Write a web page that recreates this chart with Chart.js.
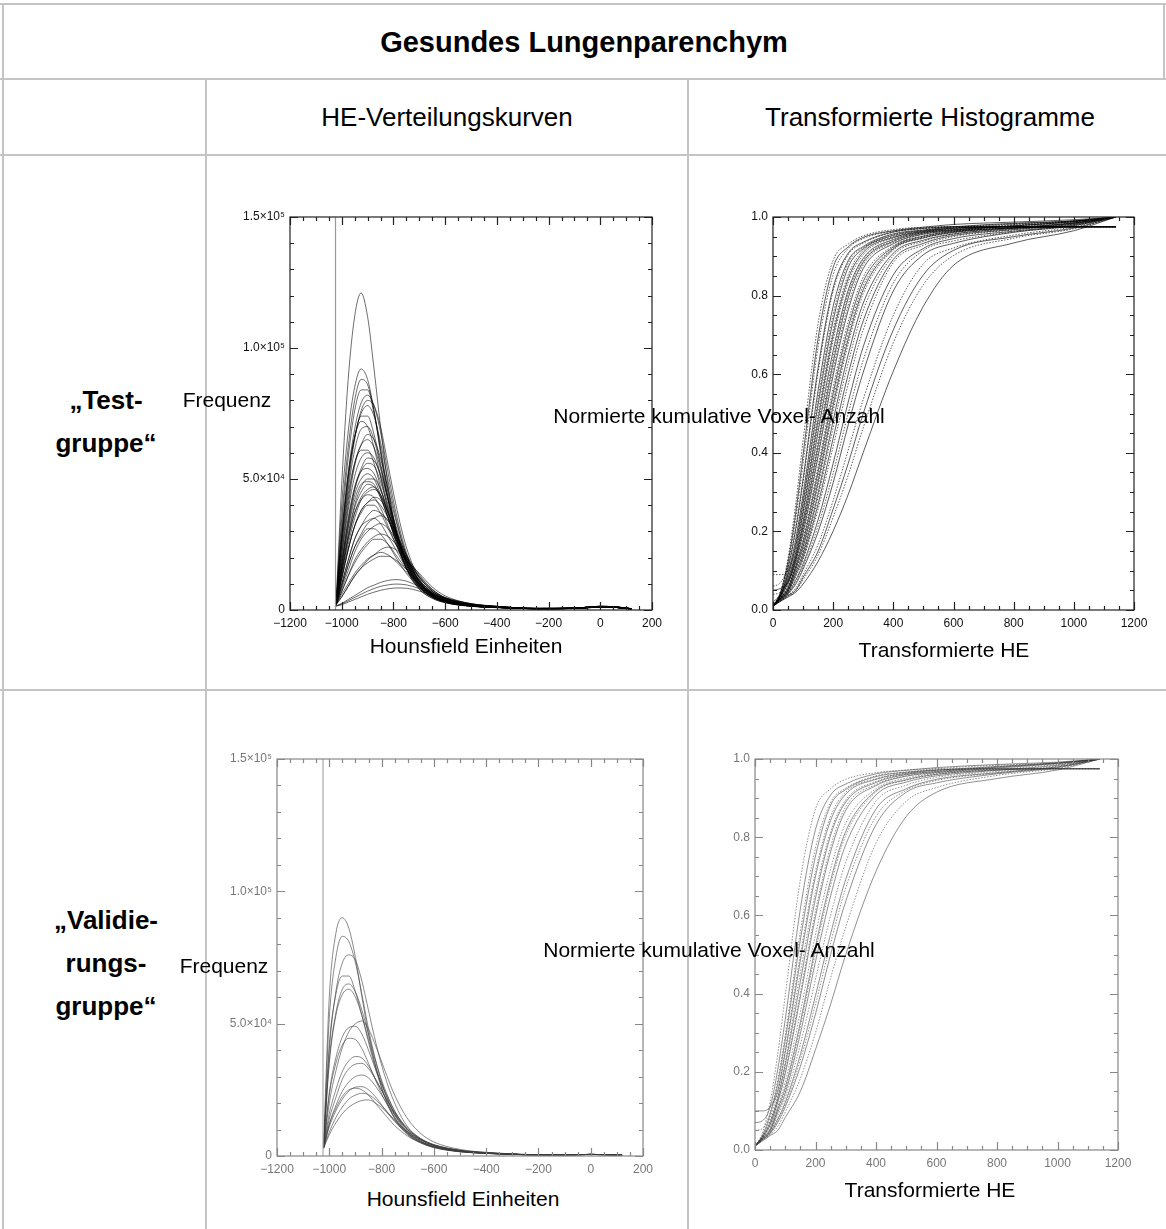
<!DOCTYPE html>
<html lang="de">
<head>
<meta charset="utf-8">
<title>Gesundes Lungenparenchym</title>
<script src="https://cdn.jsdelivr.net/npm/chart.js@4.4.1/dist/chart.umd.min.js"></script>
<style>
	body { margin: 0; background: #fff; font-family: "Liberation Sans", Arial, sans-serif; }
	#seite { position: relative; width: 1166px; height: 1229px; overflow: hidden; background: #fff; }
	.linie { position: absolute; background: #c4c4c4; }
	.txt { position: absolute; transform: translate(-50%, -50%); white-space: nowrap; color: #000; z-index: 5; }
	.titel { font-size: 29px; font-weight: bold; }
	.kopf { font-size: 26px; }
	.zeile { font-size: 26px; font-weight: bold; text-align: center; line-height: 43px; }
	.achse { font-size: 21px; }
	canvas { position: absolute; }
	.blass { filter: blur(0.6px); }
</style>
</head>
<body>
<div id="seite">
	<!-- Tabellenrahmen -->
	<div class="linie" style="left:0;top:3px;width:1166px;height:2px"></div>
	<div class="linie" style="left:2px;top:3px;width:2px;height:1226px"></div>
	<div class="linie" style="left:1163px;top:3px;width:2px;height:77px"></div>
	<div class="linie" style="left:0;top:78px;width:1166px;height:2px"></div>
	<div class="linie" style="left:0;top:154px;width:1166px;height:2px"></div>
	<div class="linie" style="left:0;top:689px;width:1166px;height:2px"></div>
	<div class="linie" style="left:205px;top:79px;width:2px;height:1150px"></div>
	<div class="linie" style="left:687px;top:79px;width:2px;height:1150px"></div>

	<canvas id="heTestChart" width="460" height="445" style="left:215px;top:195px"></canvas>
	<canvas id="cumTestChart" width="460" height="445" style="left:700px;top:195px"></canvas>
	<canvas id="heValidChart" class="blass" width="465" height="445" style="left:200px;top:740px"></canvas>
	<canvas id="cumValidChart" class="blass" width="460" height="445" style="left:690px;top:740px"></canvas>

	<div class="txt titel" style="left:584px;top:42px">Gesundes Lungenparenchym</div>
	<div class="txt kopf" style="left:447px;top:117px">HE-Verteilungskurven</div>
	<div class="txt kopf" style="left:930px;top:117px">Transformierte Histogramme</div>

	<div class="txt zeile" style="left:106px;top:422px">„Test-<br>gruppe“</div>
	<div class="txt zeile" style="left:106px;top:963px">„Validie-<br>rungs-<br>gruppe“</div>

	<div class="txt achse" style="left:227px;top:400px">Frequenz</div>
	<div class="txt achse" style="left:466px;top:646px">Hounsfield Einheiten</div>
	<div class="txt achse" style="left:719px;top:416px">Normierte kumulative Voxel- Anzahl</div>
	<div class="txt achse" style="left:944px;top:650px">Transformierte HE</div>

	<div class="txt achse" style="left:224px;top:966px">Frequenz</div>
	<div class="txt achse" style="left:463px;top:1199px">Hounsfield Einheiten</div>
	<div class="txt achse" style="left:709px;top:950px">Normierte kumulative Voxel- Anzahl</div>
	<div class="txt achse" style="left:930px;top:1190px">Transformierte HE</div>
</div>

<script>
// Stützstellen der HE-Verteilungskurven (Hounsfield-Einheiten)
var heX = [-1022, -1000, -975, -950, -925, -900, -875, -850, -820, -790, -750, -700, -650, -600, -500, -400, -250, -100, 0, 60, 120];

// Frequenzen in Tausend Voxel, Testgruppe
var heTest = [
	[2, 48, 88, 112, 121, 112, 92, 70, 47, 30, 16, 8, 4.5, 2.8, 1.4, 0.9, 0.5, 0.6, 1.2, 1.0, 0.4],
	[2, 40, 68, 85, 92, 88, 76, 60, 42, 28, 16, 8, 4.5, 2.8, 1.4, 0.9, 0.5, 0.6, 1.2, 1.0, 0.4],
	[2, 35, 62, 80, 88, 86, 76, 61, 44, 30, 17, 9, 5, 3, 1.5, 1, 0.5, 0.6, 1.1, 1, 0.4],
	[2, 32, 58, 76, 84, 84, 75, 62, 45, 31, 18, 9, 5, 3, 1.5, 1, 0.5, 0.7, 1.3, 1.1, 0.4],
	[2, 28, 52, 69, 79, 82, 78, 68, 52, 37, 22, 11, 6, 3.5, 1.6, 1, 0.5, 0.6, 1.2, 1.0, 0.4],
	[2, 26, 48, 65, 76, 80, 78, 70, 55, 40, 24, 12, 6.5, 3.8, 1.7, 1.1, 0.5, 0.7, 1.4, 1.1, 0.5],
	[2, 27, 50, 66, 75, 78, 74, 64, 49, 35, 21, 10.5, 5.8, 3.5, 1.6, 1, 0.5, 0.6, 1.2, 1, 0.4],
	[2, 28, 51, 66, 74, 74, 67, 56, 42, 30, 18, 9, 5, 3, 1.5, 1, 0.5, 0.6, 1.2, 1, 0.4],
	[2, 29, 52, 66, 72, 70, 62, 51, 38, 27, 16, 8.5, 4.8, 3, 1.5, 1, 0.5, 0.6, 1.2, 1, 0.4],
	[2, 25, 46, 61, 69, 70, 65, 55, 42, 30, 18, 9.5, 5.2, 3.2, 1.5, 1, 0.5, 0.6, 1.1, 1, 0.4],
	[2, 21, 40, 55, 63, 67, 65, 58, 46, 34, 21, 11, 6, 3.6, 1.7, 1.1, 0.5, 0.6, 1.2, 1, 0.4],
	[2, 22, 42, 56, 63, 65, 62, 54, 42, 31, 19, 10, 5.5, 3.3, 1.6, 1, 0.5, 0.6, 1.2, 1, 0.4],
	[2, 24, 44, 56, 61, 61, 56, 47, 36, 26, 16, 8.8, 5, 3.1, 1.5, 1, 0.5, 0.6, 1.1, 1, 0.4],
	[2, 20, 38, 51, 58, 60, 58, 51, 40, 30, 19, 10, 5.6, 3.4, 1.6, 1, 0.5, 0.6, 1.2, 1, 0.4],
	[2, 17, 33, 46, 54, 58, 57, 52, 42, 32, 20, 11, 6, 3.6, 1.7, 1.1, 0.5, 0.6, 1.2, 1, 0.4],
	[2, 18, 34, 46, 53, 56, 55, 49, 39, 30, 19, 10.5, 5.8, 3.5, 1.7, 1.1, 0.5, 0.6, 1.2, 1, 0.4],
	[2, 18, 35, 47, 53, 54, 52, 46, 37, 28, 18, 10, 5.6, 3.4, 1.6, 1, 0.5, 0.6, 1.2, 1, 0.4],
	[2, 17, 32, 44, 50, 52, 50, 44, 35, 26, 17, 9.5, 5.4, 3.3, 1.6, 1, 0.5, 0.6, 1.1, 1, 0.4],
	[2, 15, 29, 40, 47, 50, 50, 46, 38, 29, 19, 11, 6, 3.6, 1.7, 1.1, 0.5, 0.7, 1.3, 1.1, 0.5],
	[2, 16, 31, 42, 48, 49, 48, 43, 35, 27, 18, 10, 5.6, 3.4, 1.6, 1, 0.5, 0.6, 1.2, 1, 0.4],
	[2, 15, 28, 39, 45, 48, 47, 43, 35, 27, 18, 10, 5.7, 3.5, 1.7, 1.1, 0.5, 0.6, 1.2, 1, 0.4],
	[2, 14, 27, 37, 43, 46, 47, 44, 37, 29, 19, 11, 6.2, 3.7, 1.8, 1.1, 0.5, 0.7, 1.3, 1.1, 0.5],
	[2, 13, 25, 35, 42, 45, 46, 44, 37, 29, 20, 11.5, 6.5, 3.8, 1.8, 1.1, 0.5, 0.7, 1.3, 1.1, 0.5],
	[2, 14, 27, 37, 42, 44, 43, 39, 32, 25, 16, 9, 5.2, 3.2, 1.6, 1, 0.5, 0.6, 1.1, 1, 0.4],
	[2, 12, 23, 32, 38, 41, 43, 42, 37, 30, 21, 12.5, 7.2, 4.3, 2, 1.2, 0.6, 0.7, 1.4, 1.2, 0.5],
	[2, 12, 23, 32, 38, 41, 42, 40, 35, 28, 19, 11.5, 6.6, 4, 1.9, 1.2, 0.6, 0.7, 1.3, 1.1, 0.5],
	[2, 12, 23, 32, 37, 40, 40, 37, 31, 25, 17, 10, 5.8, 3.6, 1.7, 1.1, 0.5, 0.6, 1.2, 1, 0.4],
	[2, 10, 19, 27, 32, 36, 38, 37, 34, 28, 20, 12.5, 7.2, 4.3, 2, 1.2, 0.6, 0.7, 1.4, 1.2, 0.5],
	[2, 9, 17, 24, 29, 33, 35, 36, 34, 29, 21, 13.5, 8, 4.7, 2.2, 1.3, 0.6, 0.7, 1.4, 1.2, 0.5],
	[2, 10, 19, 27, 32, 34, 35, 33, 28, 23, 16, 9.5, 5.6, 3.5, 1.7, 1.1, 0.5, 0.6, 1.2, 1, 0.4],
	[2, 8, 15, 22, 27, 30, 32, 33, 31, 27, 20, 13, 7.8, 4.6, 2.1, 1.3, 0.6, 0.7, 1.4, 1.2, 0.5],
	[2, 9, 17, 24, 28, 31, 31, 29, 25, 20, 14, 8.5, 5, 3.2, 1.6, 1, 0.5, 0.6, 1.1, 1, 0.4],
	[2, 7, 13, 19, 23, 26, 28, 29, 28, 25, 19, 12.5, 7.6, 4.6, 2.1, 1.3, 0.6, 0.7, 1.4, 1.2, 0.5],
	[2, 7, 13, 18, 22, 25, 27, 27, 25, 21, 15.5, 10, 6.2, 3.9, 1.9, 1.2, 0.6, 0.7, 1.3, 1.1, 0.5],
	[2, 5, 9, 13, 16, 19, 21, 23, 24, 23, 19, 14, 8.8, 5.4, 2.4, 1.4, 0.6, 0.7, 1.4, 1.2, 0.5],
	[2, 6, 10, 14, 17, 19.5, 21, 22, 21, 18.5, 14.5, 10, 6.5, 4.1, 2, 1.2, 0.6, 0.7, 1.3, 1.1, 0.5],
	[2, 5, 9, 13, 16, 18, 19.5, 20.5, 20.5, 19, 15.5, 11, 7, 4.4, 2.1, 1.3, 0.6, 0.7, 1.3, 1.1, 0.5],
	[1.5, 2.5, 4, 5.5, 7, 8.5, 9.5, 10.5, 11.3, 11.6, 11, 9, 6.8, 4.8, 2.4, 1.4, 0.6, 0.7, 1.3, 1.1, 0.5],
	[1.5, 2.3, 3.5, 4.8, 6, 7.2, 8.2, 9, 9.6, 9.9, 9.6, 8.2, 6.3, 4.6, 2.4, 1.4, 0.6, 0.7, 1.3, 1.1, 0.5],
	[1.5, 2, 3, 4, 5, 6, 6.8, 7.5, 8.1, 8.4, 8.3, 7.2, 5.7, 4.3, 2.3, 1.4, 0.6, 0.7, 1.3, 1.1, 0.5]
];

// Frequenzen in Tausend Voxel, Validierungsgruppe
var heValid = [
	[3, 60, 84, 90, 86, 75, 60, 46, 33, 23, 14, 8, 5, 3.2, 1.6, 1, 0.5, 0.4, 0.6, 0.5, 0.3],
	[3, 52, 75, 83, 81, 73, 61, 48, 35, 25, 15.5, 8.8, 5.4, 3.5, 1.7, 1, 0.5, 0.4, 0.6, 0.5, 0.3],
	[3, 40, 62, 73, 76, 74, 66, 55, 42, 31, 20, 11, 6.5, 4, 1.9, 1.1, 0.5, 0.4, 0.6, 0.5, 0.3],
	[3, 42, 61, 68, 68, 62, 53, 43, 32, 23, 14.5, 8.2, 5, 3.2, 1.6, 1, 0.5, 0.4, 0.6, 0.5, 0.3],
	[3, 36, 54, 63, 65, 62, 55, 46, 35, 26, 17, 9.5, 5.7, 3.6, 1.8, 1.1, 0.5, 0.4, 0.6, 0.5, 0.3],
	[3, 35, 53, 61, 63, 60, 53, 44, 33, 24.5, 16, 9, 5.5, 3.5, 1.7, 1, 0.5, 0.4, 0.6, 0.5, 0.3],
	[3, 20, 32, 41, 47, 50, 51, 48, 41, 33, 23, 14, 8.5, 5.3, 2.5, 1.4, 0.6, 0.4, 0.6, 0.5, 0.3],
	[3, 24, 37, 45, 48.5, 49, 46, 40, 32, 25, 17, 10, 6.2, 4, 1.9, 1.1, 0.5, 0.4, 0.6, 0.5, 0.3],
	[3, 23, 35, 42, 44.5, 44, 40.5, 35, 28, 21.5, 14.5, 8.5, 5.3, 3.4, 1.7, 1, 0.5, 0.4, 0.6, 0.5, 0.3],
	[3, 16, 25, 32, 36, 37.6, 37, 34, 28.5, 23, 16, 10, 6.3, 4.1, 2, 1.2, 0.5, 0.4, 0.6, 0.5, 0.3],
	[3, 14, 22, 29, 33, 34.7, 35, 33, 28.5, 23, 16.5, 10.5, 6.6, 4.3, 2.1, 1.2, 0.5, 0.4, 0.6, 0.5, 0.3],
	[3, 12, 19, 24.5, 28, 30, 30.6, 29.5, 26, 21.5, 15.5, 10, 6.4, 4.2, 2.1, 1.2, 0.5, 0.4, 0.6, 0.5, 0.3],
	[3, 11, 17, 21.5, 24.5, 26, 26.2, 25, 22, 18, 13, 8.5, 5.5, 3.7, 1.9, 1.1, 0.5, 0.4, 0.6, 0.5, 0.3],
	[3, 12, 18, 22.5, 25, 25.6, 25, 23, 19.5, 16, 11.5, 7.5, 5, 3.4, 1.8, 1.1, 0.5, 0.4, 0.6, 0.5, 0.3],
	[3, 9, 14.5, 18.5, 21.5, 23, 23.7, 23.2, 21, 18, 13.5, 9, 6, 4, 2, 1.2, 0.5, 0.4, 0.6, 0.5, 0.3],
	[3, 8, 12.5, 16, 18.5, 20, 21, 21.2, 19.8, 17.5, 13.5, 9.2, 6.2, 4.2, 2.2, 1.3, 0.6, 0.4, 0.6, 0.5, 0.3]
];

// Luftspitze bei -1024 HE (läuft über den Achsenbereich hinaus)
var spikeX = [-1024, -1024];
var spikeTest = [0, 160];
var spikeValid = [0, 160];

// Stützstellen der transformierten Histogramme
var cumX = [0, 25, 50, 75, 100, 150, 200, 250, 300, 400, 500, 600, 800, 1000, 1140];

// normierte kumulative Voxel-Anzahl, Testgruppe
var cumTest = [
	[0.01, 0.046, 0.132, 0.267, 0.431, 0.729, 0.890, 0.931, 0.952, 0.968, 0.974, 0.975, 0.975, 0.975, 0.975],
	[0.01, 0.045, 0.123, 0.244, 0.395, 0.692, 0.872, 0.924, 0.948, 0.965, 0.974, 0.981, 0.987, 0.993, 1.0],
	[0.01, 0.043, 0.117, 0.23, 0.373, 0.67, 0.853, 0.92, 0.945, 0.964, 0.972, 0.975, 0.975, 0.975, 0.975],
	[0.02, 0.042, 0.106, 0.205, 0.334, 0.617, 0.82, 0.908, 0.936, 0.962, 0.971, 0.975, 0.975, 0.975, 0.975],
	[0.06, 0.07, 0.11, 0.2, 0.324, 0.605, 0.812, 0.904, 0.933, 0.961, 0.970, 0.975, 0.975, 0.975, 0.975],
	[0.01, 0.039, 0.095, 0.178, 0.294, 0.559, 0.773, 0.889, 0.925, 0.957, 0.967, 0.975, 0.984, 0.99, 1.0],
	[0.01, 0.038, 0.091, 0.168, 0.281, 0.538, 0.752, 0.882, 0.922, 0.955, 0.966, 0.974, 0.983, 0.99, 1.0],
	[0.01, 0.038, 0.088, 0.161, 0.272, 0.523, 0.737, 0.872, 0.919, 0.953, 0.965, 0.972, 0.975, 0.975, 0.975],
	[0.09, 0.09, 0.1, 0.16, 0.257, 0.50, 0.713, 0.853, 0.915, 0.95, 0.964, 0.972, 0.982, 0.99, 1.0],
	[0.01, 0.036, 0.081, 0.146, 0.249, 0.485, 0.700, 0.843, 0.910, 0.948, 0.963, 0.971, 0.975, 0.975, 0.975],
	[0.01, 0.036, 0.078, 0.142, 0.24, 0.471, 0.687, 0.833, 0.904, 0.947, 0.962, 0.970, 0.981, 0.99, 1.0],
	[0.01, 0.035, 0.074, 0.135, 0.225, 0.454, 0.66, 0.814, 0.895, 0.943, 0.961, 0.968, 0.975, 0.975, 0.975],
	[0.04, 0.045, 0.075, 0.132, 0.218, 0.431, 0.644, 0.805, 0.890, 0.940, 0.960, 0.968, 0.979, 0.989, 1.0],
	[0.01, 0.034, 0.069, 0.129, 0.211, 0.419, 0.629, 0.794, 0.885, 0.938, 0.959, 0.967, 0.978, 0.988, 1.0],
	[0.01, 0.033, 0.066, 0.124, 0.202, 0.403, 0.611, 0.776, 0.878, 0.935, 0.957, 0.966, 0.977, 0.988, 1.0],
	[0.05, 0.055, 0.07, 0.122, 0.195, 0.391, 0.597, 0.763, 0.869, 0.932, 0.956, 0.965, 0.977, 0.988, 1.0],
	[0.01, 0.032, 0.06, 0.115, 0.181, 0.366, 0.567, 0.734, 0.847, 0.927, 0.952, 0.964, 0.972, 0.975, 0.975],
	[0.01, 0.031, 0.058, 0.111, 0.174, 0.353, 0.551, 0.719, 0.836, 0.924, 0.951, 0.963, 0.972, 0.975, 0.975],
	[0.01, 0.031, 0.055, 0.108, 0.167, 0.34, 0.536, 0.704, 0.825, 0.921, 0.949, 0.962, 0.974, 0.986, 1.0],
	[0.01, 0.031, 0.053, 0.105, 0.16, 0.327, 0.521, 0.69, 0.815, 0.919, 0.947, 0.961, 0.973, 0.985, 1.0],
	[0.01, 0.03, 0.051, 0.102, 0.153, 0.316, 0.507, 0.677, 0.805, 0.916, 0.946, 0.96, 0.972, 0.985, 1.0],
	[0.01, 0.03, 0.049, 0.096, 0.145, 0.298, 0.482, 0.650, 0.781, 0.908, 0.941, 0.957, 0.971, 0.984, 1.0],
	[0.01, 0.029, 0.048, 0.093, 0.14, 0.287, 0.464, 0.629, 0.763, 0.902, 0.938, 0.956, 0.97, 0.984, 1.0],
	[0.01, 0.028, 0.047, 0.088, 0.134, 0.27, 0.437, 0.60, 0.736, 0.892, 0.933, 0.953, 0.968, 0.982, 1.0],
	[0.01, 0.028, 0.046, 0.083, 0.128, 0.257, 0.416, 0.575, 0.713, 0.884, 0.928, 0.95, 0.967, 0.982, 1.0],
	[0.01, 0.027, 0.043, 0.075, 0.117, 0.23, 0.373, 0.529, 0.67, 0.853, 0.92, 0.945, 0.964, 0.98, 1.0],
	[0.01, 0.026, 0.042, 0.07, 0.11, 0.214, 0.348, 0.50, 0.636, 0.832, 0.915, 0.939, 0.962, 0.978, 1.0],
	[0.01, 0.025, 0.041, 0.065, 0.104, 0.199, 0.324, 0.471, 0.605, 0.812, 0.904, 0.933, 0.961, 0.978, 1.0],
	[0.01, 0.024, 0.038, 0.055, 0.09, 0.167, 0.279, 0.407, 0.536, 0.75, 0.881, 0.921, 0.954, 0.975, 1.0],
	[0.01, 0.023, 0.037, 0.05, 0.083, 0.15, 0.257, 0.373, 0.50, 0.713, 0.853, 0.915, 0.95, 0.972, 1.0],
	[0.01, 0.023, 0.035, 0.048, 0.077, 0.14, 0.236, 0.343, 0.464, 0.68, 0.828, 0.902, 0.946, 0.97, 1.0],
	[0.01, 0.022, 0.033, 0.045, 0.066, 0.124, 0.201, 0.294, 0.401, 0.608, 0.773, 0.877, 0.934, 0.965, 1.0]
];

// normierte kumulative Voxel-Anzahl, Validierungsgruppe
var cumValid = [
	[0.01, 0.045, 0.123, 0.244, 0.395, 0.692, 0.872, 0.924, 0.948, 0.965, 0.972, 0.975, 0.975, 0.975, 0.975],
	[0.07, 0.075, 0.11, 0.205, 0.334, 0.617, 0.82, 0.908, 0.936, 0.962, 0.971, 0.978, 0.986, 0.992, 1.0],
	[0.05, 0.055, 0.095, 0.178, 0.294, 0.559, 0.773, 0.889, 0.925, 0.957, 0.967, 0.975, 0.984, 0.99, 1.0],
	[0.01, 0.038, 0.091, 0.168, 0.281, 0.538, 0.752, 0.882, 0.922, 0.955, 0.966, 0.972, 0.975, 0.975, 0.975],
	[0.01, 0.037, 0.083, 0.15, 0.257, 0.50, 0.713, 0.853, 0.915, 0.95, 0.964, 0.972, 0.975, 0.975, 0.975],
	[0.1, 0.1, 0.11, 0.15, 0.249, 0.485, 0.700, 0.843, 0.910, 0.948, 0.963, 0.971, 0.981, 0.99, 1.0],
	[0.01, 0.035, 0.074, 0.135, 0.225, 0.454, 0.66, 0.814, 0.895, 0.943, 0.961, 0.968, 0.98, 0.99, 1.0],
	[0.01, 0.034, 0.071, 0.132, 0.218, 0.431, 0.644, 0.805, 0.890, 0.940, 0.960, 0.968, 0.979, 0.989, 1.0],
	[0.01, 0.033, 0.066, 0.124, 0.202, 0.403, 0.611, 0.776, 0.878, 0.935, 0.957, 0.966, 0.974, 0.975, 0.975],
	[0.01, 0.033, 0.064, 0.122, 0.195, 0.391, 0.597, 0.763, 0.869, 0.932, 0.956, 0.965, 0.977, 0.988, 1.0],
	[0.01, 0.031, 0.058, 0.111, 0.174, 0.353, 0.551, 0.719, 0.836, 0.924, 0.951, 0.963, 0.974, 0.986, 1.0],
	[0.01, 0.031, 0.053, 0.105, 0.16, 0.327, 0.521, 0.69, 0.815, 0.919, 0.947, 0.961, 0.972, 0.975, 0.975],
	[0.01, 0.03, 0.051, 0.102, 0.153, 0.316, 0.507, 0.677, 0.805, 0.916, 0.946, 0.96, 0.972, 0.975, 0.975],
	[0.01, 0.03, 0.049, 0.096, 0.145, 0.298, 0.482, 0.650, 0.781, 0.908, 0.941, 0.957, 0.971, 0.984, 1.0],
	[0.01, 0.028, 0.047, 0.088, 0.134, 0.27, 0.437, 0.60, 0.736, 0.892, 0.933, 0.953, 0.968, 0.982, 1.0],
	[0.01, 0.027, 0.045, 0.079, 0.122, 0.244, 0.395, 0.553, 0.692, 0.872, 0.924, 0.948, 0.965, 0.98, 1.0],
	[0.01, 0.027, 0.043, 0.075, 0.117, 0.23, 0.373, 0.529, 0.67, 0.853, 0.92, 0.945, 0.964, 0.98, 1.0],
	[0.01, 0.026, 0.042, 0.07, 0.11, 0.214, 0.348, 0.50, 0.636, 0.832, 0.915, 0.939, 0.962, 0.978, 1.0],
	[0.01, 0.025, 0.039, 0.06, 0.097, 0.183, 0.30, 0.44, 0.57, 0.785, 0.892, 0.927, 0.958, 0.976, 1.0],
	[0.01, 0.023, 0.037, 0.05, 0.083, 0.15, 0.257, 0.373, 0.50, 0.713, 0.853, 0.915, 0.95, 0.972, 1.0]
];

// Achsenbeschriftung der Frequenz (Werte in Tausend)
var freqTicks = [0, 50, 100, 150];
var freqLabels = ['0', '5.0×10⁴', '1.0×10⁵', '1.5×10⁵'];

function toPoints(xs, ys) {
	var pts = [];
	for (var i in ys) pts.push({x: xs[i], y: ys[i]});
	return pts;
}

function minus(v) {
	return v < 0 ? '\u2212' + Math.abs(v) : '' + v;
}

// Rahmen mit nach innen zeigenden Haupt- und Nebenstrichen auf allen vier Seiten
var rahmen = {
	id: 'rahmen',
	afterDraw: function(chart, args, o) {
		var ctx = chart.ctx, a = chart.chartArea;
		var sx = chart.scales.x, sy = chart.scales.y;
		ctx.save();
		ctx.strokeStyle = o.color;
		ctx.lineWidth = 1.2;
		ctx.strokeRect(a.left, a.top, a.right - a.left, a.bottom - a.top);
		ctx.beginPath();
		var n = Math.round((sx.max - sx.min) / o.xMinor);
		for (var i = 0; i <= n; i++) {
			var len = (i % o.xEvery == 0) ? 8 : 4;
			var px = Math.round(sx.getPixelForValue(sx.min + i * o.xMinor)) + 0.5;
			ctx.moveTo(px, a.bottom); ctx.lineTo(px, a.bottom - len);
			ctx.moveTo(px, a.top); ctx.lineTo(px, a.top + len);
		}
		n = Math.round((sy.max - sy.min) / o.yMinor);
		for (var j = 0; j <= n; j++) {
			var len2 = (j % o.yEvery == 0) ? 8 : 4;
			var py = Math.round(sy.getPixelForValue(sy.min + j * o.yMinor)) + 0.5;
			ctx.moveTo(a.left, py); ctx.lineTo(a.left + len2, py);
			ctx.moveTo(a.right, py); ctx.lineTo(a.right - len2, py);
		}
		ctx.stroke();
		ctx.restore();
	}
};

function zeichne(id, xs, kurven, spitze, c) {
	var datasets = [];
	if (spitze) {
		datasets.push({data: toPoints(spikeX, spitze), borderColor: c.spitze, borderWidth: 1.2, pointRadius: 0});
	}
	for (var k in kurven) {
		datasets.push({
			data: toPoints(xs, kurven[k]),
			borderColor: c.farbe,
			borderWidth: c.breite,
			borderDash: (c.punkte && k % 2 == 0) ? [1.5, 1.5] : [],
			pointRadius: 0,
			cubicInterpolationMode: 'monotone'
		});
	}
	var tickFont = {family: 'Liberation Sans', size: 12};

	new Chart(document.getElementById(id), {
		type: 'line',
		data: {datasets: datasets},
		options: {
			responsive: false,
			animation: false,
			events: [],
			layout: {padding: c.padding},
			plugins: {
				legend: {display: false},
				tooltip: {enabled: false},
				rahmen: c.rahmen
			},
			scales: {
				x: {
					type: 'linear', min: c.xMin, max: c.xMax,
					grid: {display: false, drawTicks: false}, border: {display: false},
					ticks: {stepSize: c.xStep, padding: 6, color: c.schrift, font: tickFont, maxRotation: 0, autoSkip: false, callback: c.xLabel},
					afterFit: function(s) { s.height = c.xHoehe; }
				},
				y: {
					min: c.yMin, max: c.yMax,
					grid: {display: false, drawTicks: false}, border: {display: false},
					ticks: {stepSize: c.yStep, padding: 5, color: c.schrift, font: tickFont, autoSkip: false, callback: c.yLabel},
					afterFit: function(s) { s.width = c.yBreite; }
				}
			}
		},
		plugins: [rahmen]
	});
}

var heLabel = function(v) { return minus(v); };
var freqLabel = function(v) { return freqLabels[freqTicks.indexOf(v)]; };
var cumYLabel = function(v) { return v.toFixed(1); };
var cumXLabel = function(v) { return '' + v; };

zeichne('heTestChart', heX, heTest, spikeTest, {
	farbe: 'rgba(0,0,0,0.72)', breite: 0.8, spitze: '#999', schrift: '#111',
	padding: {top: 22, right: 23, left: 0, bottom: 0}, yBreite: 75, xHoehe: 30,
	xMin: -1200, xMax: 200, xStep: 200, yMin: 0, yMax: 150, yStep: 50,
	xLabel: heLabel, yLabel: freqLabel,
	rahmen: {color: '#222', xMinor: 50, xEvery: 4, yMinor: 10, yEvery: 5}
});

zeichne('cumTestChart', cumX, cumTest, null, {
	farbe: 'rgba(0,0,0,0.8)', breite: 0.8, punkte: true, schrift: '#111',
	padding: {top: 22, right: 26, left: 0, bottom: 0}, yBreite: 73, xHoehe: 30,
	xMin: 0, xMax: 1200, xStep: 200, yMin: 0, yMax: 1, yStep: 0.2,
	xLabel: cumXLabel, yLabel: cumYLabel,
	rahmen: {color: '#222', xMinor: 50, xEvery: 4, yMinor: 0.05, yEvery: 4}
});

zeichne('heValidChart', heX, heValid, spikeValid, {
	farbe: 'rgba(60,60,60,0.6)', breite: 1, spitze: '#aaa', schrift: '#777',
	padding: {top: 19, right: 22, left: 0, bottom: 0}, yBreite: 77, xHoehe: 29,
	xMin: -1200, xMax: 200, xStep: 200, yMin: 0, yMax: 150, yStep: 50,
	xLabel: heLabel, yLabel: freqLabel,
	rahmen: {color: '#888', xMinor: 50, xEvery: 4, yMinor: 10, yEvery: 5}
});

zeichne('cumValidChart', cumX, cumValid, null, {
	farbe: 'rgba(50,50,50,0.6)', breite: 0.9, punkte: true, schrift: '#777',
	padding: {top: 19, right: 32, left: 0, bottom: 0}, yBreite: 65, xHoehe: 35,
	xMin: 0, xMax: 1200, xStep: 200, yMin: 0, yMax: 1, yStep: 0.2,
	xLabel: cumXLabel, yLabel: cumYLabel,
	rahmen: {color: '#888', xMinor: 50, xEvery: 4, yMinor: 0.05, yEvery: 4}
});
</script>
</body>
</html>
